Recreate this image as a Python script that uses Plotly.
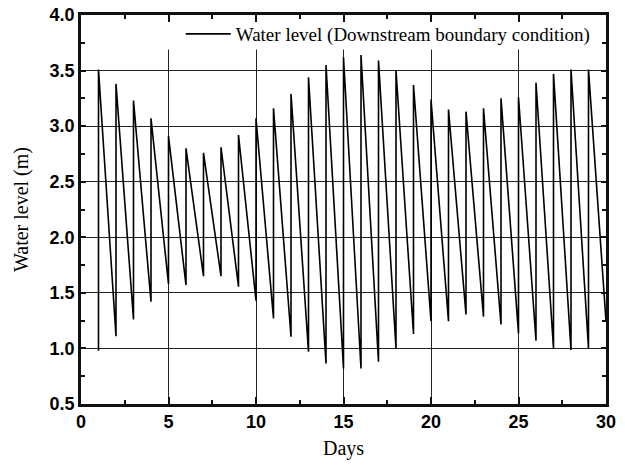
import plotly.graph_objects as go

# Days at which the level rises (start of each cycle)
rise_days = list(range(1, 30))
# Water level just before each rise (days 1..30), m
low_levels = [0.98, 1.11, 1.26, 1.42, 1.58, 1.57, 1.65, 1.65, 1.555, 1.43,
              1.27, 1.105, 0.97, 0.865, 0.82, 0.82, 0.88, 1.00, 1.13, 1.245,
              1.245, 1.305, 1.285, 1.215, 1.135, 1.07, 1.00, 0.985, 1.00, 1.245]
# Peak water level right after each rise (days 1..29), m
peak_levels = [3.51, 3.38, 3.23, 3.07, 2.91, 2.80, 2.76, 2.81, 2.92, 3.07,
               3.16, 3.29, 3.44, 3.55, 3.62, 3.64, 3.59, 3.50, 3.37, 3.24,
               3.15, 3.13, 3.16, 3.25, 3.26, 3.39, 3.47, 3.51, 3.51]

xs, ys = [], []
for i, d in enumerate(rise_days):
    xs += [d, d]
    ys += [low_levels[i], peak_levels[i]]
xs.append(30)
ys.append(low_levels[-1])

fig = go.Figure()
fig.add_trace(go.Scatter(x=xs, y=ys, mode="lines",
                         line=dict(color="black", width=1.6),
                         name="Water level (Downstream boundary condition)",
                         showlegend=True))

tickfont = dict(family="Liberation Sans, Arial, sans-serif", size=18, color="black", weight="bold")
titlefont = dict(family="Liberation Serif, Times New Roman, serif", size=20, color="black")

axis_common = dict(showline=True, linewidth=2.5, linecolor="#111", mirror="allticks",
                   ticks="inside", tickwidth=2, tickcolor="#111", automargin=False,
                   showgrid=True, gridcolor="#222", gridwidth=1, zeroline=False,
                   tickfont=tickfont)

fig.update_xaxes(range=[0, 30], dtick=5, tick0=0, ticklen=7,
                 minor=dict(dtick=2.5, ticks="inside", ticklen=4, tickwidth=2, tickcolor="#111", showgrid=False),
                 title=dict(text="Days", font=titlefont, standoff=10), **axis_common)
fig.update_yaxes(range=[0.5, 4.0], dtick=0.5, tick0=0.5, tickformat=".1f", ticklen=5,
                 minor=dict(dtick=0.25, ticks="inside", ticklen=4, tickwidth=2, tickcolor="#111", showgrid=False),
                 title=dict(text="Water level (m)", font=titlefont, standoff=16), **axis_common)

fig.add_shape(type="rect", xref="x", yref="y", x0=4.6, x1=29.6, y0=3.69, y1=3.97,
              fillcolor="white", line=dict(width=0), layer="between")

fig.update_layout(width=625, height=465,
                  margin=dict(l=81, r=19, t=15, b=61, autoexpand=False),
                  plot_bgcolor="white", paper_bgcolor="white",
                  legend=dict(x=0.19, y=1.0, xanchor="left", yanchor="top",
                              bgcolor="rgba(0,0,0,0)", itemwidth=45,
                              font=dict(family="Liberation Serif, Times New Roman, serif", size=19, color="black")))

fig.write_html("out.html")
